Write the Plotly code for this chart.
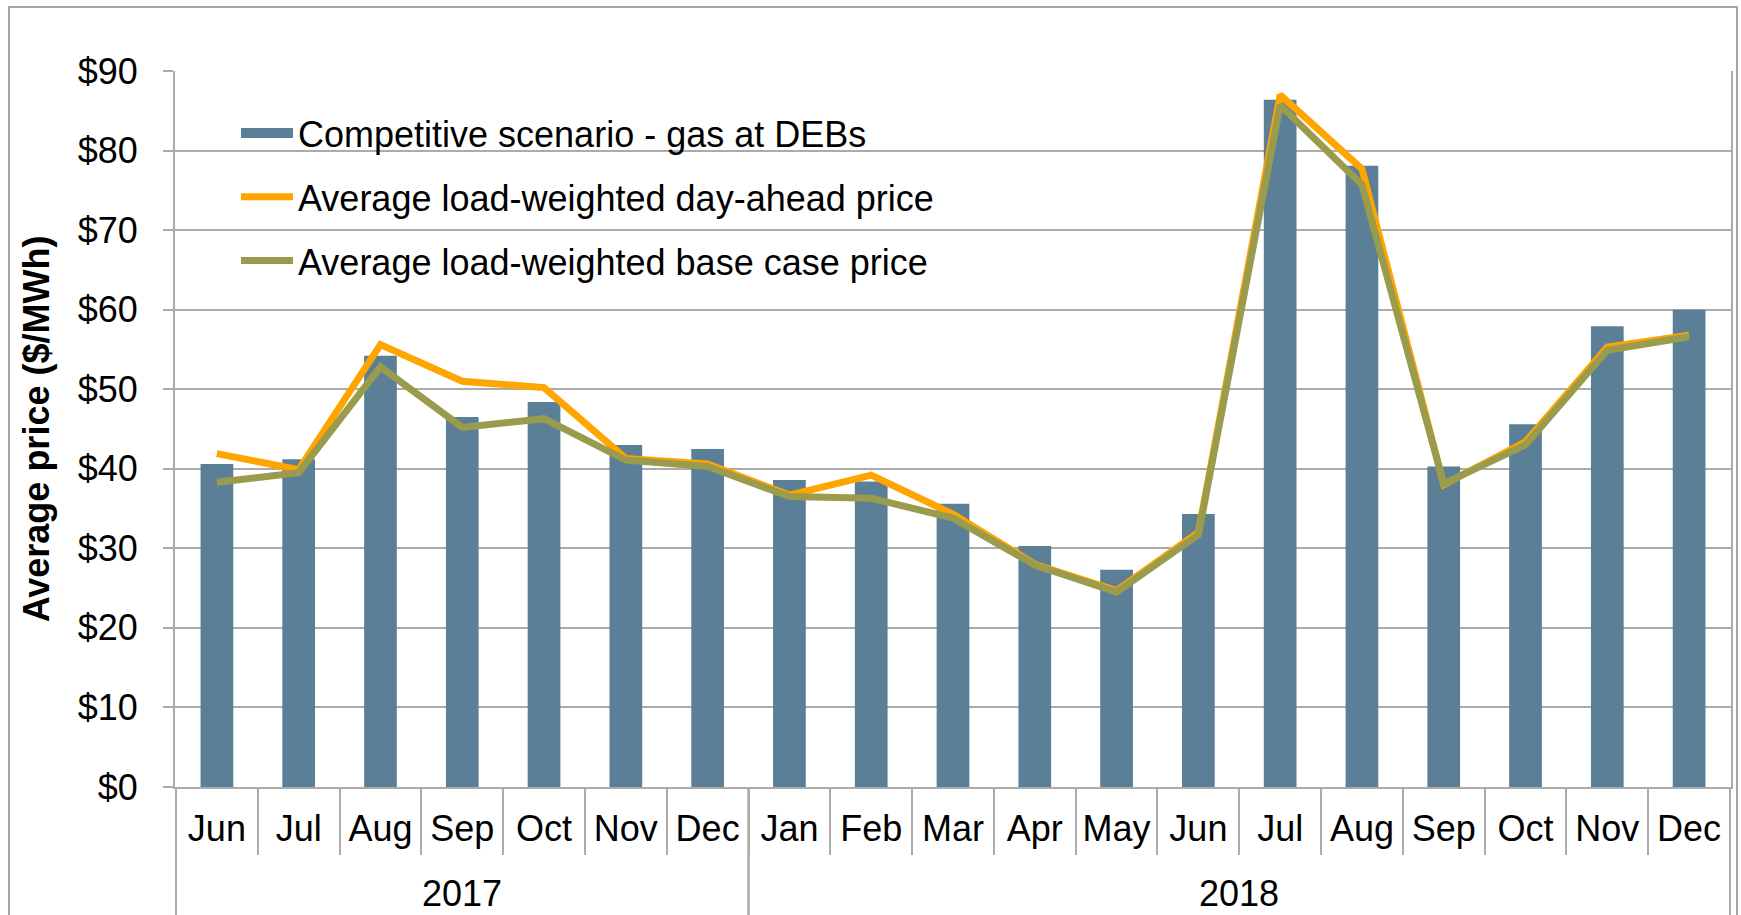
import plotly.graph_objects as go

months = ["Jun", "Jul", "Aug", "Sep", "Oct", "Nov", "Dec",
          "Jan", "Feb", "Mar", "Apr", "May", "Jun", "Jul", "Aug", "Sep", "Oct", "Nov", "Dec"]
years = ["2017"] * 7 + ["2018"] * 12

competitive = [40.6, 41.2, 54.2, 46.5, 48.4, 43.0, 42.5, 38.6, 38.4, 35.6,
               30.3, 27.3, 34.3, 86.4, 78.1, 40.3, 45.6, 57.9, 60.0]
day_ahead = [41.9, 39.9, 55.6, 51.0, 50.2, 41.3, 40.6, 36.7, 39.2, 34.3,
             28.0, 24.7, 32.0, 87.0, 77.7, 38.0, 43.4, 55.3, 56.8]
base_case = [38.3, 39.5, 52.8, 45.2, 46.3, 41.1, 40.3, 36.5, 36.3, 33.8,
             27.9, 24.5, 31.7, 85.7, 75.7, 38.1, 43.0, 54.9, 56.6]

BAR_COLOR = "#5A7F97"
ORANGE = "#FFA500"
OLIVE = "#9A9B4C"
GRID = "#ABABAB"
FONT = "Liberation Sans, Arial, sans-serif"

W, H = 1741, 915
ML, MR, MT, MB = 175, 10, 71, 128
PW, PH = W - ML - MR, H - MT - MB

# one unique category per month, shown with the month name only
keys = [f"{y}-{m}" for y, m in zip(years, months)]

fig = go.Figure()

fig.add_trace(go.Bar(
    x=keys, y=competitive, marker_color=BAR_COLOR, marker_line_width=0,
    name="Competitive scenario - gas at DEBs", showlegend=False,
    hovertemplate="%{x}<br>$%{y:.1f}<extra></extra>"
))
fig.add_trace(go.Scatter(
    x=keys, y=day_ahead, mode="lines", line=dict(color=ORANGE, width=7),
    name="Average load-weighted day-ahead price", showlegend=False
))
fig.add_trace(go.Scatter(
    x=keys, y=base_case, mode="lines", line=dict(color=OLIVE, width=7),
    name="Average load-weighted base case price", showlegend=False
))

# legend entries (wide swatches like the original)
legend_items = [("Competitive scenario - gas at DEBs", BAR_COLOR, 21),
                ("Average load-weighted day-ahead price", ORANGE, 7),
                ("Average load-weighted base case price", OLIVE, 7)]
for i, (name, color, lw) in enumerate(legend_items):
    fig.add_trace(go.Scatter(
        x=[None], y=[None], mode="lines", line=dict(color=color, width=lw),
        name=name, legendgroup=f"g{i}", showlegend=True, hoverinfo="skip"
    ))

# year group labels and the long dividers between year groups
year_y = (MT + PH - 893) / PH
for yr in dict.fromkeys(years):
    idx = [i for i, y in enumerate(years) if y == yr]
    fig.add_annotation(x=sum(idx) / len(idx), xref="x", y=year_y, yref="paper",
                       text=yr, showarrow=False, yanchor="middle",
                       font=dict(size=36, color="black"))
    for b in (idx[0] - 0.5, idx[-1] + 0.5):
        fig.add_shape(type="line", xref="x", yref="paper", x0=b, x1=b,
                      y0=0, y1=-0.2, line=dict(color=GRID, width=2))

fig.update_layout(
    width=W, height=H,
    margin=dict(l=ML, r=MR, t=MT, b=MB),
    paper_bgcolor="white", plot_bgcolor="white",
    font=dict(family=FONT, size=36, color="black"),
    bargap=0.6,
    showlegend=True,
    legend=dict(
        x=(236 - ML) / PW, y=(MT + PH - 103) / PH, xanchor="left", yanchor="top",
        bgcolor="rgba(0,0,0,0)", font=dict(size=36),
        itemwidth=52, traceorder="grouped", tracegroupgap=14,
    ),
    xaxis=dict(
        type="category",
        tickmode="array", tickvals=keys, ticktext=months,
        tickson="boundaries",
        showline=True, linecolor=GRID, linewidth=2,
        ticks="outside", ticklen=66, tickcolor=GRID, tickwidth=2,
        showgrid=False, ticklabelstandoff=9, automargin=False,
        tickfont=dict(size=36),
    ),
    yaxis=dict(
        range=[0, 90], dtick=10, tickprefix="$",
        showgrid=True, gridcolor=GRID, gridwidth=2,
        showline=True, linecolor=GRID, linewidth=2, mirror=True,
        ticks="outside", ticklen=10, tickcolor=GRID, tickwidth=2,
        ticklabelstandoff=18, zeroline=False, automargin=False,
        title=dict(text="<b>Average price ($/MWh)</b>", font=dict(size=36), standoff=17),
    ),
)

# outer chart border
fig.add_shape(type="rect", xref="paper", yref="paper",
              x0=(9 - ML) / PW, x1=(1737 - ML) / PW,
              y0=(MT + PH - 930) / PH, y1=(MT + PH - 7) / PH,
              line=dict(color="#A6A6A6", width=2), layer="below")

# page body has a default 8px margin; drop it so the figure sits at 0,0
fig.write_html("out.html", config={"displayModeBar": False},
               post_script="document.body.style.margin='0';")
